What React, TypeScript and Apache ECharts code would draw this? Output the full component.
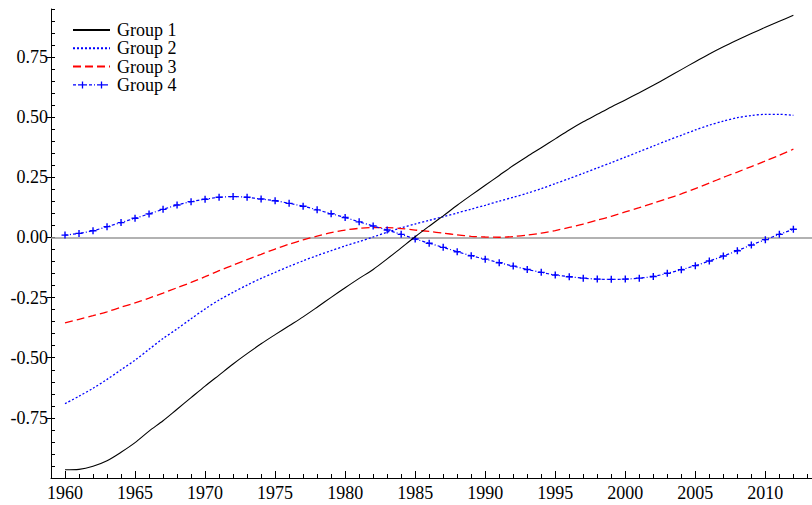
import React, { useEffect, useRef } from "react";
import * as echarts from "echarts";

const years: number[] = [];
for (let y = 1960; y <= 2012; y++) years.push(y);

const labelYears = [1960, 1965, 1970, 1975, 1980, 1985, 1990, 1995, 2000, 2005, 2010];

const group1 = [
  -0.966, -0.964, -0.951, -0.928, -0.893, -0.853, -0.805, -0.762, -0.714, -0.666,
  -0.618, -0.572, -0.526, -0.483, -0.442, -0.404, -0.367, -0.33, -0.29, -0.249,
  -0.209, -0.17, -0.133, -0.089, -0.043, 0.003, 0.047, 0.09, 0.134, 0.176,
  0.217, 0.258, 0.299, 0.337, 0.373, 0.41, 0.447, 0.481, 0.512, 0.543,
  0.572, 0.602, 0.633, 0.665, 0.698, 0.731, 0.763, 0.793, 0.821, 0.848,
  0.874, 0.899, 0.924,
];

const group2 = [
  -0.691, -0.66, -0.627, -0.59, -0.55, -0.51, -0.465, -0.42, -0.38, -0.338,
  -0.297, -0.26, -0.228, -0.198, -0.17, -0.145, -0.12, -0.097, -0.075, -0.055,
  -0.035, -0.017, 0.002, 0.022, 0.04, 0.056, 0.071, 0.086, 0.102, 0.118,
  0.134, 0.151, 0.167, 0.184, 0.203, 0.224, 0.245, 0.267, 0.289, 0.311,
  0.334, 0.357, 0.38, 0.403, 0.425, 0.447, 0.467, 0.484, 0.498, 0.507,
  0.512, 0.512, 0.508,
];

const group3 = [
  -0.355, -0.34, -0.325, -0.309, -0.29, -0.272, -0.252, -0.231, -0.209, -0.187,
  -0.163, -0.138, -0.115, -0.092, -0.07, -0.048, -0.028, -0.01, 0.006, 0.02,
  0.031, 0.038, 0.041, 0.041, 0.037, 0.031, 0.025, 0.018, 0.011, 0.005,
  0.002, 0.001, 0.004, 0.01, 0.018, 0.029, 0.042, 0.056, 0.072, 0.088,
  0.106, 0.124, 0.143, 0.162, 0.181, 0.203, 0.226, 0.25, 0.272, 0.295,
  0.318, 0.342, 0.367,
];

const group4 = [
  0.01, 0.017, 0.028, 0.045, 0.062, 0.08, 0.098, 0.117, 0.135, 0.149,
  0.159, 0.167, 0.17, 0.167, 0.16, 0.153, 0.142, 0.13, 0.115, 0.099,
  0.083, 0.065, 0.048, 0.031, 0.013, -0.006, -0.024, -0.041, -0.059, -0.076,
  -0.09, -0.105, -0.119, -0.133, -0.145, -0.156, -0.163, -0.169, -0.173, -0.174,
  -0.173, -0.169, -0.162, -0.149, -0.134, -0.117, -0.098, -0.077, -0.055, -0.031,
  -0.009, 0.013, 0.034,
];

const seriesNames = ["Group 1", "Group 2", "Group 3", "Group 4"];

const FONT = "'Liberation Serif', 'Times New Roman', 'DejaVu Serif', serif";
const X_MIN = 1959;
const X_MAX = 2013.33;
const Y_MIN = -1;
const Y_MAX = 0.95;

const PLUS = "path://M4,0h2v4h4v2h-4v4h-2v-4h-4v-2h4z";

// legend icon for Group 4: dash-dot line with two plus markers (37 x 14 box)
function buildGroup4Icon(): string {
  const parts: string[] = [];
  const rect = (x: number, y: number, w: number, h: number) =>
    `M${x},${y}h${w}v${h}h${-w}z`;
  parts.push(rect(0, 0, 0.01, 0.01));
  parts.push(rect(36.99, 13.99, 0.01, 0.01));
  const pattern = [3, 2, 1, 2];
  let x = 0;
  let k = 0;
  while (x < 37) {
    const len = Math.min(pattern[k % 4], 37 - x);
    if (k % 2 === 0) parts.push(rect(x, 6.4, len, 1.2));
    x += pattern[k % 4];
    k++;
  }
  for (const cx of [9.5, 28.5]) {
    parts.push(rect(cx - 0.65, 3.5, 1.3, 7));
    parts.push(rect(cx - 3.5, 6.35, 7, 1.3));
  }
  return "path://" + parts.join("");
}

export default function App() {
  const ref = useRef<HTMLDivElement>(null);
  useEffect(() => {
    if (!ref.current) return;
    const chart = echarts.init(ref.current, null, { renderer: "svg" });
    const W = 812, H = 505;
    const gl = 51, gt = 9, gr = 0, gb = 27;
    const gw = W - gl - gr;
    const gh = H - gt - gb;
    const pts = (vals: number[]) => years.map((y, i) => [y, vals[i]]);
    chart.setOption({
      animation: false,
      backgroundColor: "#ffffff",
      textStyle: { fontFamily: FONT },
      grid: { left: gl, top: gt, right: gr, bottom: gb, containLabel: false, outerBoundsMode: "none" },
      legend: {
        data: [
          { name: seriesNames[0], itemStyle: { opacity: 0 } },
          { name: seriesNames[1], itemStyle: { opacity: 0 } },
          { name: seriesNames[2], itemStyle: { opacity: 0 } },
          { name: seriesNames[3], icon: buildGroup4Icon() },
        ],
        orient: "vertical",
        left: 72,
        top: 21,
        padding: 0,
        itemWidth: 37,
        itemHeight: 14,
        itemGap: 0.3,
        textStyle: { fontFamily: FONT, fontSize: 18, color: "#000", lineHeight: 18, padding: [0, 0, 0, 2] },
      },
      xAxis: [
        {
          type: "value",
          position: "bottom",
          min: X_MIN,
          max: X_MAX,
          interval: 1,
          axisLine: { show: true, onZero: false, lineStyle: { color: "#000", width: 1 } },
          axisTick: { show: true, inside: true, length: 4, lineStyle: { color: "#000", width: 1 } },
          axisLabel: {
            customValues: labelYears,
            formatter: (v: number) => String(v),
            fontFamily: FONT,
            fontSize: 18,
            color: "#000",
            margin: 6,
          },
          splitLine: { show: false },
        },
        {
          type: "value",
          position: "top",
          offset: -gh,
          min: X_MIN,
          max: X_MAX,
          axisLine: { show: false, onZero: false },
          axisTick: { show: true, customValues: labelYears, length: 7, lineStyle: { color: "#000", width: 1 } },
          axisLabel: { show: false },
          splitLine: { show: false },
        },
      ],
      yAxis: [
        {
          type: "value",
          position: "left",
          min: Y_MIN,
          max: Y_MAX,
          interval: 0.25,
          axisLine: { show: true, onZero: false, lineStyle: { color: "#000", width: 1 } },
          axisTick: { show: true, inside: false, length: 4, lineStyle: { color: "#000", width: 1 } },
          axisLabel: {
            formatter: (v: number) => v.toFixed(2),
            showMinLabel: false,
            showMaxLabel: false,
            fontFamily: FONT,
            fontSize: 18,
            color: "#000",
            margin: 3,
          },
          splitLine: { show: false },
        },
        {
          type: "value",
          position: "right",
          offset: -gw,
          min: Y_MIN,
          max: Y_MAX,
          interval: 0.05,
          axisLine: { show: false, onZero: false },
          axisTick: { show: true, length: 4, lineStyle: { color: "#000", width: 1 } },
          axisLabel: { show: false },
          splitLine: { show: false },
        },
      ],
      series: [
        {
          name: "Group 1",
          type: "line",
          data: pts(group1),
          symbol: "none",
          smooth: 0.3,
          lineStyle: { color: "#000000", width: 1.1, type: "solid" },
          itemStyle: { color: "#000000" },
          markLine: {
            silent: true,
            symbol: ["none", "none"],
            label: { show: false },
            lineStyle: { color: "#999999", width: 1.5, type: "solid" },
            data: [{ yAxis: 0 }],
            z: 1,
          },
          z: 5,
        },
        {
          name: "Group 2",
          type: "line",
          data: pts(group2),
          symbol: "none",
          smooth: 0.3,
          lineStyle: { color: "#0000ff", width: 1.3, type: [2, 2] },
          itemStyle: { color: "#0000ff" },
          z: 4,
        },
        {
          name: "Group 3",
          type: "line",
          data: pts(group3),
          symbol: "none",
          smooth: 0.3,
          lineStyle: { color: "#ff0000", width: 1.3, type: [8, 4] },
          itemStyle: { color: "#ff0000" },
          z: 4,
        },
        {
          name: "Group 4",
          type: "line",
          data: pts(group4),
          symbol: PLUS,
          symbolSize: 7,
          showSymbol: true,
          smooth: 0.3,
          lineStyle: { color: "#0000ff", width: 1.2, type: [3, 2, 1, 2] },
          itemStyle: { color: "#0000ff" },
          z: 4,
        },
      ],
    });
    return () => chart.dispose();
  }, []);
  return (
    <div
      ref={ref}
      style={{ position: "absolute", left: 0, top: 0, width: 812, height: 505 }}
    />
  );
}
